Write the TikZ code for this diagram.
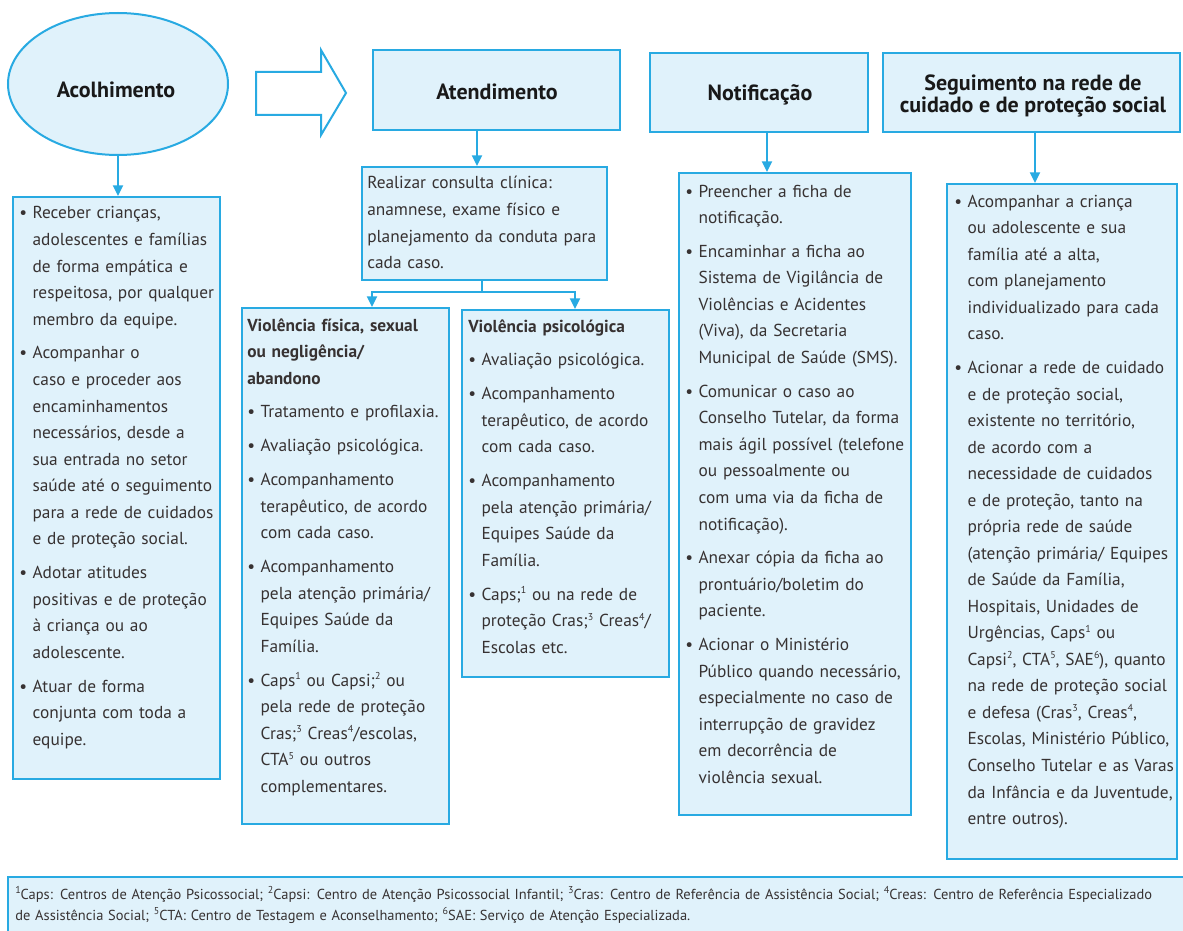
\documentclass[tikz,border=0pt]{standalone}
\usepackage{fontspec}
\setmainfont{PT Sans}
\usetikzlibrary{arrows.meta,shapes.geometric,fit}
\definecolor{bblue}{RGB}{40,170,226}
\definecolor{bfill}{RGB}{224,242,251}
\definecolor{btext}{RGB}{55,50,50}
\newcommand{\bulx}{\noindent\hangindent=10pt\hangafter=1\makebox[10pt][l]{•}}
\newcommand{\bul}{\par\bulx}
\newcommand{\su}[1]{\raisebox{0.75ex}{\fontsize{7.5}{7.5}\selectfont #1}}
\newcommand{\nl}{\newline}
\newcommand{\bodyinit}{\setlength{\parskip}{5.5pt}}
\tikzset{
  boxstyle/.style={draw=bblue, fill=bfill, line width=1.5pt, rectangle, inner sep=0pt},
  headtext/.style={font=\fontsize{16.5}{17}\bfseries\selectfont, text=black!90, align=center, inner sep=0pt},
  bodytext/.style={anchor=base west, text width=230pt, align=left, inner sep=0pt,
     font=\fontsize{13}{19.9}\selectfont, text=btext},
  conn/.style={draw=bblue, line width=1.5pt, -{Triangle[width=7.5pt,length=8pt]}},
  connline/.style={draw=bblue, line width=1.5pt},
}
\begin{document}
\begin{tikzpicture}[x=0.75pt,y=-0.75pt]
\useasboundingbox (0,0) rectangle (1183,931);
\fill[white] (0,0) rectangle (1183,931);

% header row
\node[ellipse, draw=bblue, fill=bfill, line width=1.5pt, minimum width=165pt, minimum height=106.5pt, inner sep=0pt] (acol) at (118,84) {};
\node[headtext] (acolt) at (116,90) {Acolhimento};
\draw[draw=bblue, line width=1.5pt, fill=white] (256,72) -- (321,72) -- (321,50) -- (346,93) -- (321,135) -- (321,115) -- (256,115) -- cycle;
\node[boxstyle, fit={(373,50)(620,130)}] (atend) {};
\node[headtext] (atendt) at (497,92) {Atendimento};
\node[boxstyle, fit={(650,53)(868,132)}] (notif) {};
\node[headtext] (notift) at (760,95) {Notificação};
\node[boxstyle, fit={(883,53)(1180,132)}] (segu) {};
\node[headtext] (segut) at (1033,96) {Seguimento na rede de\\cuidado e de proteção social};

% content boxes
\node[boxstyle, fit={(13,197)(220,779)}] (acolbox) {};
\node[boxstyle, fit={(362,167)(607,280)}] (real) {};
\node[boxstyle, fit={(242,308)(449,824)}] (vfis) {};
\node[boxstyle, fit={(462,310)(669,677)}] (vpsi) {};
\node[boxstyle, fit={(679,173)(911,815)}] (notifbox) {};
\node[boxstyle, fit={(947,184)(1177,859)}] (segubox) {};
\node[boxstyle, fit={(8,877)(1200,950)}] (foot) {};

% connectors
\coordinate (atx) at (477,0);
\coordinate (ntx) at (767,0);
\coordinate (stx) at (1035,0);
\coordinate (br) at (482,292);
\coordinate (bl) at (372,292);
\coordinate (brr) at (575,292);
\draw[conn] (acol.south) -- (acol.south |- acolbox.north);
\draw[conn] (atend.south -| atx) -- (real.north -| atx);
\draw[conn] (notif.south -| ntx) -- (notifbox.north -| ntx);
\draw[conn] (segu.south -| stx) -- (segubox.north -| stx);
\draw[connline] (real.south -| br) -- (br);
\draw[conn] (br) -- (bl) -- (bl |- vfis.north);
\draw[conn] (br) -- (brr) -- (brr |- vpsi.north);

% texts
\node[bodytext] (acoltx) at (19,219) {\bodyinit\bulx Receber crianças,\nl adolescentes e famílias\nl de forma empática e\nl respeitosa, por qualquer\nl membro da equipe.
\bul Acompanhar o\nl caso e proceder aos\nl encaminhamentos\nl necessários, desde a\nl sua entrada no setor\nl saúde até o seguimento\nl para a rede de cuidados\nl e de proteção social.
\bul Adotar atitudes\nl positivas e de proteção\nl à criança ou ao\nl adolescente.
\bul Atuar de forma\nl conjunta com toda a\nl equipe.\par};

\node[bodytext] (realt) at (367,189) {Realizar consulta clínica:\nl anamnese, exame físico e\nl planejamento da conduta para\nl cada caso.};

\node[bodytext] (vfist) at (247,331) {\bodyinit{\bfseries Violência física, sexual\nl ou negligência/\nl abandono}
\bul Tratamento e profilaxia.
\bul Avaliação psicológica.
\bul Acompanhamento\nl terapêutico, de acordo\nl com cada caso.
\bul Acompanhamento\nl pela atenção primária/\nl Equipes Saúde da\nl Família.
\bul Caps\su{1} ou Capsi;\su{2} ou\nl pela rede de proteção\nl Cras;\su{3} Creas\su{4}/escolas,\nl CTA\su{5} ou outros\nl complementares.\par};

\node[bodytext] (vpsit) at (468,332) {\bodyinit{\bfseries Violência psicológica}
\bul Avaliação psicológica.
\bul Acompanhamento\nl terapêutico, de acordo\nl com cada caso.
\bul Acompanhamento\nl pela atenção primária/\nl Equipes Saúde da\nl Família.
\bul Caps;\su{1} ou na rede de\nl proteção Cras;\su{3} Creas\su{4}/\nl Escolas etc.\par};

\node[bodytext] (notiftx) at (685,197) {\bodyinit\bulx Preencher a ficha de\nl notificação.
\bul Encaminhar a ficha ao\nl Sistema de Vigilância de\nl Violências e Acidentes\nl (Viva), da Secretaria\nl Municipal de Saúde (SMS).
\bul Comunicar o caso ao\nl Conselho Tutelar, da forma\nl mais ágil possível (telefone\nl ou pessoalmente ou\nl com uma via da ficha de\nl notificação).
\bul Anexar cópia da ficha ao\nl prontuário/boletim do\nl paciente.
\bul Acionar o Ministério\nl Público quando necessário,\nl especialmente no caso de\nl interrupção de gravidez\nl em decorrência de\nl violência sexual.\par};

\node[bodytext] (segutx) at (954,207) {\bodyinit\bulx Acompanhar a criança\nl ou adolescente e sua\nl família até a alta,\nl com planejamento\nl individualizado para cada\nl caso.
\bul Acionar a rede de cuidado\nl e de proteção social,\nl existente no território,\nl de acordo com a\nl necessidade de cuidados\nl e de proteção, tanto na\nl própria rede de saúde\nl (atenção primária/ Equipes\nl de Saúde da Família,\nl Hospitais, Unidades de\nl Urgências, Caps\su{1} ou\nl Capsi\su{2}, CTA\su{5}, SAE\su{6}), quanto\nl na rede de proteção social\nl e defesa (Cras\su{3}, Creas\su{4},\nl Escolas, Ministério Público,\nl Conselho Tutelar e as Varas\nl da Infância e da Juventude,\nl entre outros).\par};

\node[bodytext, text width=1100pt, font=\fontsize{10.85}{15.75}\selectfont] (foott) at (15,899) {\su{1}Caps: Centros de Atenção Psicossocial; \su{2}Capsi: Centro de Atenção Psicossocial Infantil; \su{3}Cras: Centro de Referência de Assistência Social; \su{4}Creas: Centro de Referência Especializado\nl de Assistência Social; \su{5}CTA: Centro de Testagem e Aconselhamento; \su{6}SAE: Serviço de Atenção Especializada.};
\end{tikzpicture}
\end{document}
